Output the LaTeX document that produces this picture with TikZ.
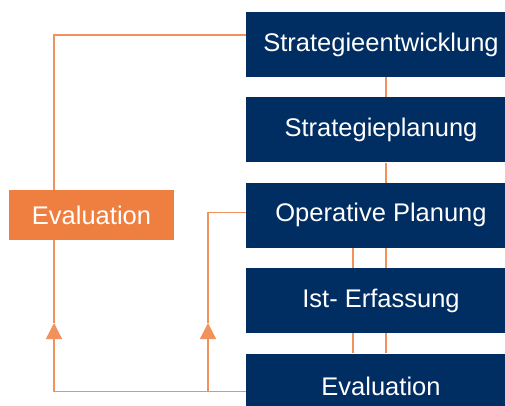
\documentclass[tikz,border=0pt]{standalone}
\usepackage{fontspec}
\setmainfont{Liberation Sans}
\usetikzlibrary{positioning,arrows.meta}
\definecolor{navy}{HTML}{002D62}
\definecolor{signal}{HTML}{EE7F40}
\begin{document}
\begin{tikzpicture}[
    x=1pt, y=-1pt,
    phase/.style={rectangle, fill=navy, text=white, inner sep=0pt,
        minimum width=270pt, minimum height=65pt,
        font=\fontsize{25.5}{30}\selectfont},
    review/.style={rectangle, fill=signal, text=white, inner sep=0pt,
        minimum width=165pt, minimum height=50pt,
        font=\fontsize{25.5}{30}\selectfont},
    link/.style={draw=signal!85, line width=1.3pt},
    feedback/.style={link, -{Triangle[length=16pt,width=16pt]}},
    node distance=20pt
]
\useasboundingbox (0,0) rectangle (505,405);
\node (Entwicklung) [phase] at (381,44.5) {Strategieentwicklung};
\node (Planung) [phase, below=of Entwicklung] {Strategieplanung};
\node (Operativ) [phase, below=of Planung] {Operative Planung};
\node (Erfassung) [phase, below=of Operativ] {Ist- Erfassung};
\node (Auswertung) [phase, below=of Erfassung] {Evaluation};
\node (Review) [review] at (91.5,215) {Evaluation};
\coordinate (TipOuter) at (54,323);
\coordinate (TipInner) at (208,323);
% chain of phases
\draw[link] ([xshift=5pt]Entwicklung.south) -- ([xshift=5pt]Planung.north);
\draw[link] ([xshift=5pt]Planung.south) -- ([xshift=5pt]Operativ.north);
\draw[link] ([xshift=5pt]Operativ.south) -- ([xshift=5pt]Erfassung.north);
\draw[link] ([xshift=5pt]Erfassung.south) -- ([xshift=5pt]Auswertung.north);
\draw[link] ([xshift=-28pt]Operativ.south) -- ([xshift=-28pt]Erfassung.north);
\draw[link] ([xshift=-28pt]Erfassung.south) -- ([xshift=-28pt]Auswertung.north);
% feedback loops
\draw[link] ([yshift=9.5pt]Entwicklung.west) -| (Review.north -| TipOuter);
\draw[feedback] ([yshift=-5.5pt]Auswertung.west) -| (TipOuter);
\draw[link] (TipOuter) -- (Review.south -| TipOuter);
\draw[feedback] ([yshift=-5.5pt]Auswertung.west) -| (TipInner);
\draw[link] (TipInner) |- ([yshift=2.5pt]Operativ.west);
\end{tikzpicture}
\end{document}
